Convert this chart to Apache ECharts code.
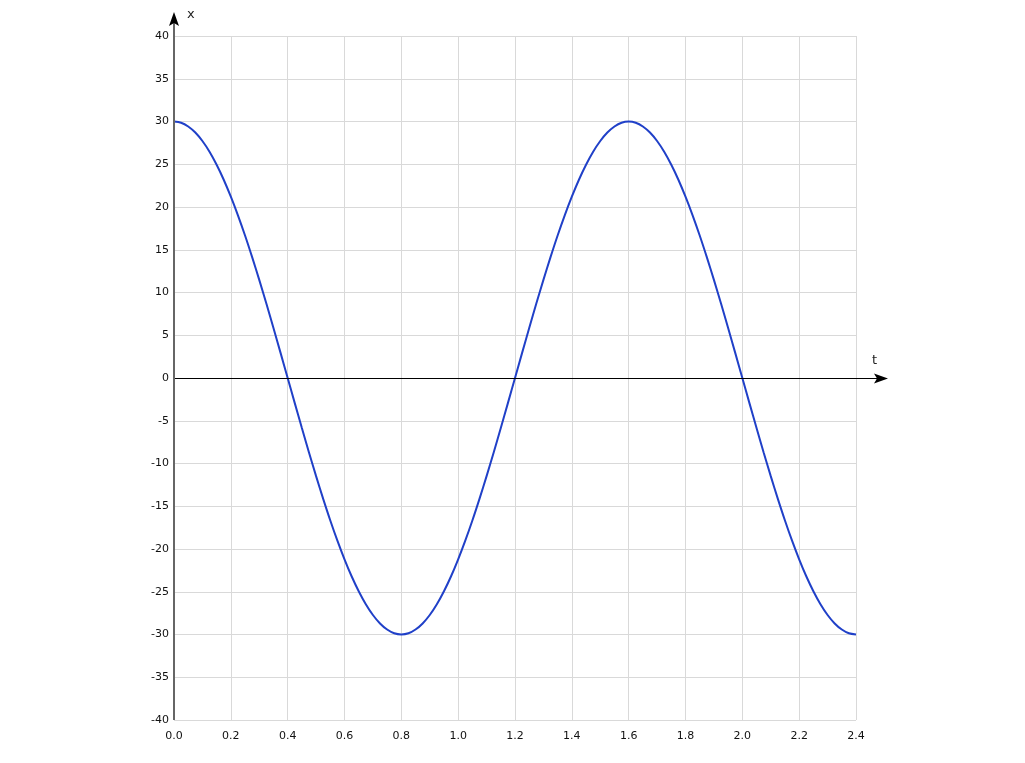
<!DOCTYPE html>
<html>
<head>
<meta charset="utf-8">
<script src="https://cdn.jsdelivr.net/npm/echarts@6/dist/echarts.min.js"></script>
<style>html,body{margin:0;padding:0;background:#fff;}#c{width:1025px;height:763px;}</style>
</head>
<body>
<div id="c"></div>
<script>
// Data
var tValues = [0,0.025,0.05,0.075,0.1,0.125,0.15,0.175,0.2,0.225,0.25,0.275,0.3,0.325,0.35,0.375,
  0.4,0.425,0.45,0.475,0.5,0.525,0.55,0.575,0.6,0.625,0.65,0.675,0.7,0.725,0.75,0.775,
  0.8,0.825,0.85,0.875,0.9,0.925,0.95,0.975,1.0,1.025,1.05,1.075,1.1,1.125,1.15,1.175,
  1.2,1.225,1.25,1.275,1.3,1.325,1.35,1.375,1.4,1.425,1.45,1.475,1.5,1.525,1.55,1.575,
  1.6,1.625,1.65,1.675,1.7,1.725,1.75,1.775,1.8,1.825,1.85,1.875,1.9,1.925,1.95,1.975,
  2.0,2.025,2.05,2.075,2.1,2.125,2.15,2.175,2.2,2.225,2.25,2.275,2.3,2.325,2.35,2.375,2.4];
var xValues = [30,29.86,29.42,28.71,27.72,26.46,24.94,23.19,21.21,19.03,16.67,14.14,11.48,8.71,5.85,2.94,
  0,-2.94,-5.85,-8.71,-11.48,-14.14,-16.67,-19.03,-21.21,-23.19,-24.94,-26.46,-27.72,-28.71,-29.42,-29.86,
  -30,-29.86,-29.42,-28.71,-27.72,-26.46,-24.94,-23.19,-21.21,-19.03,-16.67,-14.14,-11.48,-8.71,-5.85,-2.94,
  0,2.94,5.85,8.71,11.48,14.14,16.67,19.03,21.21,23.19,24.94,26.46,27.72,28.71,29.42,29.86,
  30,29.86,29.42,28.71,27.72,26.46,24.94,23.19,21.21,19.03,16.67,14.14,11.48,8.71,5.85,2.94,
  0,-2.94,-5.85,-8.71,-11.48,-14.14,-16.67,-19.03,-21.21,-23.19,-24.94,-26.46,-27.72,-28.71,-29.42,-29.86,-30];
var xAxisName = 't';
var yAxisName = 'x';

var font = 'Tahoma, "DejaVu Sans", sans-serif';
var chart = echarts.init(document.getElementById('c'));
var pts = tValues.map(function(t,i){return [t, xValues[i]];});
chart.setOption({
  animation: false,
  grid: {left: 174, right: 169, top: 36, bottom: 43, containLabel: false},
  xAxis: {
    type: 'value', min: 0, max: 2.4, interval: 0.2,
    axisLine: {show: false}, axisTick: {show: false},
    axisLabel: {color: '#111', fontSize: 11, fontFamily: font, margin: 11,
      formatter: function(v){return v.toFixed(1);}},
    splitLine: {show: true, lineStyle: {color: '#d9d9d9', width: 1}}
  },
  yAxis: {
    type: 'value', min: -40, max: 40, interval: 5,
    axisLine: {show: false}, axisTick: {show: false},
    axisLabel: {color: '#111', fontSize: 11, fontFamily: font, margin: 5},
    splitLine: {show: true, lineStyle: {color: '#d9d9d9', width: 1}}
  },
  series: [{
    type: 'line', data: pts, smooth: 0.3, showSymbol: false,
    lineStyle: {color: '#2040c8', width: 2}, z: 5
  }]
});

var pO = chart.convertToPixel({gridIndex: 0}, [0, 0]);
var pR = chart.convertToPixel({gridIndex: 0}, [2.4, 0]);
var pT = chart.convertToPixel({gridIndex: 0}, [0, 40]);
var pB = chart.convertToPixel({gridIndex: 0}, [0, -40]);
var xr = pR[0] + 24, yt = pT[1] - 16;
var ox = Math.round(pO[0]), oy = Math.round(pO[1]) + 0.5;
chart.setOption({
  graphic: [
    {type: 'line', shape: {x1: ox, y1: oy, x2: xr + 2, y2: oy}, style: {stroke: '#000', lineWidth: 1}, z: 10},
    {type: 'polygon', shape: {points: [[xr + 8, oy], [xr - 6, oy - 5], [xr - 3, oy], [xr - 6, oy + 5]]}, style: {fill: '#000'}, z: 10},
    {type: 'line', shape: {x1: ox, y1: pB[1], x2: ox, y2: yt}, style: {stroke: '#666', lineWidth: 2}, z: 10},
    {type: 'polygon', shape: {points: [[ox, yt - 8], [ox - 5, yt + 6], [ox, yt + 3], [ox + 5, yt + 6]]}, style: {fill: '#000'}, z: 10},
    {type: 'text', x: xr - 8, y: oy - 24, style: {text: xAxisName, fill: '#222', font: '13px ' + font}, z: 10},
    {type: 'text', x: ox + 13, y: yt - 12, style: {text: yAxisName, fill: '#222', font: '13px ' + font}, z: 10}
  ]
});
</script>
</body>
</html>
